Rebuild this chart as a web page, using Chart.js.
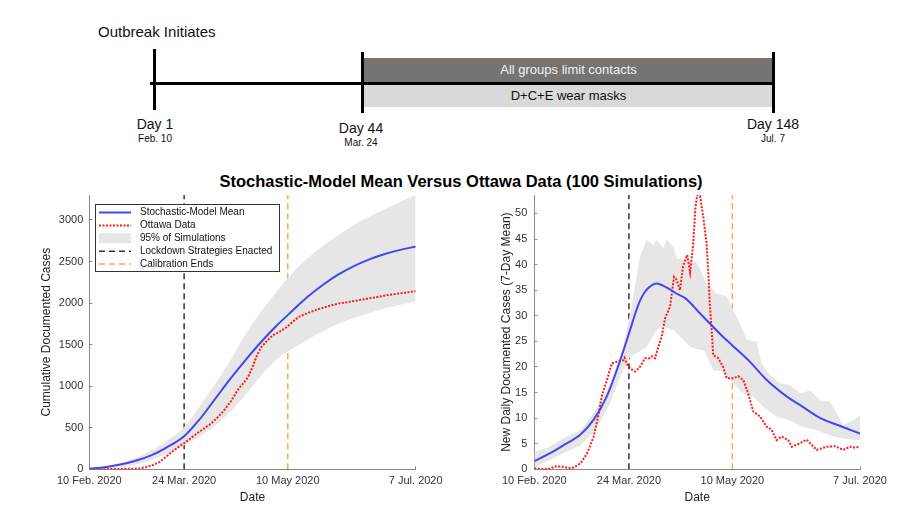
<!DOCTYPE html>
<html>
<head>
<meta charset="utf-8">
<script src="https://cdn.jsdelivr.net/npm/chart.js@4.4.1/dist/chart.umd.min.js"></script>
<style>
    body { margin: 0; width: 900px; height: 506px; background: #fff; position: relative; overflow: hidden;
           font-family: "Liberation Sans", Arial, sans-serif; color: #111; }
    .abs { position: absolute; }
    .bar { position: absolute; background: #000; }
    .day { position: absolute; width: 100px; text-align: center; font-size: 14px; line-height: 16px; }
    .date { position: absolute; width: 100px; text-align: center; font-size: 10px; line-height: 11px; }
    .box { position: absolute; left: 364px; width: 409px; text-align: center; font-size: 13px; }
    #title { left: 0; top: 172px; width: 922px; text-align: center; font-weight: bold; font-size: 16.5px; line-height: 19px; color: #000; }
    canvas { position: absolute; top: 190px; }
</style>
</head>
<body>

<!-- timeline -->
<div class="abs" style="left:98px; top:23px; font-size:15px; line-height:17px;">Outbreak Initiates</div>
<div class="box" style="top:58px; height:24px; line-height:24px; background:#767371; color:#f2f2f2;">All groups limit contacts</div>
<div class="box" style="top:85px; height:22px; line-height:22px; background:#d9d9d9;">D+C+E wear masks</div>
<div class="bar" style="left:150px; top:82px; width:625px; height:3px;"></div>
<div class="bar" style="left:153px; top:49px; width:3px; height:61px;"></div>
<div class="bar" style="left:361px; top:52px; width:3px; height:61px;"></div>
<div class="bar" style="left:772px; top:52px; width:3px; height:61px;"></div>
<div class="day" style="left:105px; top:115.5px;">Day 1</div>
<div class="date" style="left:105px; top:132.5px;">Feb. 10</div>
<div class="day" style="left:311px; top:119.5px;">Day 44</div>
<div class="date" style="left:311px; top:136.5px;">Mar. 24</div>
<div class="day" style="left:723px; top:115.5px;">Day 148</div>
<div class="date" style="left:723px; top:132.5px;">Jul. 7</div>

<div id="title" class="abs">Stochastic-Model Mean Versus Ottawa Data (100 Simulations)</div>

<canvas id="chart-cumulative" width="450" height="316" style="left:0;"></canvas>
<canvas id="chart-daily" width="450" height="316" style="left:450px;"></canvas>

<script>
// x axis: days since 10 Feb. 2020
const dateTickDays = [0, 43, 90, 148];
const dateTickLabels = ['10 Feb. 2020', '24 Mar. 2020', '10 May 2020', '7 Jul. 2020'];
const lockdownDay = 43;
const calibrationDay = 90;

// cumulative documented cases
const cumTicks = [0, 500, 1000, 1500, 2000, 2500, 3000];
const cumMax = 3300;
const cumDays = [0, 7, 14, 21, 28, 35, 43, 50, 57, 64, 71, 78, 85, 92, 99, 106, 113, 120, 127, 134, 141, 148];
const cumMean = [8, 25, 57, 103, 168, 262, 398, 600, 845, 1090, 1320, 1535, 1730, 1905, 2075, 2220, 2345, 2445, 2525, 2590, 2640, 2680];
const cumUpper = [10, 35, 75, 135, 225, 340, 510, 755, 1025, 1310, 1630, 1900, 2140, 2360, 2540, 2690, 2820, 2940, 3040, 3130, 3220, 3300];
const cumLower = [0, 8, 25, 55, 110, 180, 288, 395, 525, 695, 900, 1130, 1320, 1450, 1560, 1660, 1750, 1820, 1880, 1935, 1980, 2020];
const ottawaCumDays = [0, 5, 10, 15, 20, 23, 26, 29, 32, 35, 38, 41, 43, 46, 49, 52, 55, 58, 61, 64, 66, 68, 70, 72, 74, 76, 78, 80, 83, 86, 89, 92, 95, 99, 103, 108, 113, 118, 124, 130, 136, 142, 148];
const ottawaCum = [0, 1, 3, 5, 7, 12, 28, 52, 90, 155, 220, 280, 314, 375, 435, 490, 545, 620, 705, 810, 895, 980, 1040, 1110, 1230, 1370, 1470, 1530, 1610, 1650, 1700, 1770, 1835, 1880, 1920, 1960, 1995, 2015, 2043, 2070, 2100, 2120, 2143];

// new daily documented cases (7-day mean)
const dailyTicks = [0, 5, 10, 15, 20, 25, 30, 35, 40, 45, 50];
const dailyMax = 53.6;
const dailyMeanDays = [0, 7, 14, 21, 27, 33, 38, 43.5, 46, 48, 50, 52, 55.5, 58.5, 61, 64, 69, 75, 80, 85, 90, 98, 105.5, 114.5, 122, 130, 137.5, 148];
const dailyMean = [1.6, 3.1, 4.9, 6.8, 9.7, 14.3, 20, 27.2, 30.6, 32.9, 34.5, 35.5, 36.3, 35.9, 35.3, 34.5, 33.3, 30.6, 28.4, 26.2, 24.2, 21, 17.5, 14.3, 12.2, 10, 8.7, 7];
const dailyUpperDays = [0, 7, 13, 21, 28, 34.5, 40.5, 45, 48, 51, 54, 55.6, 58.6, 60.2, 63.2, 64.7, 69.3, 73.8, 78.3, 82.8, 87.4, 90.4, 93.5, 96.5, 101, 103.3, 107.1, 111.7, 116.2, 120.8, 125.3, 129.8, 134.4, 137.4, 140.4, 145, 148];
const dailyUpper = [3.4, 4.4, 6, 7.7, 11.6, 16.8, 23.9, 33.7, 41.5, 44.8, 43.8, 44.8, 43.2, 44.9, 43.4, 41.2, 40.9, 40.5, 36.3, 34.4, 33.7, 31.1, 28.5, 25.3, 24.9, 20.7, 18.4, 16.8, 16.4, 14.8, 15.4, 13.5, 13.2, 10.9, 8.7, 9.6, 10.6];
const dailyLowerDays = [0, 7, 13, 21, 28, 34.5, 39, 43.5, 46.5, 51, 55.6, 58.6, 63.2, 67.7, 71, 75.3, 77, 81.3, 85.8, 90.4, 94.9, 99.5, 104, 110, 116, 122, 128, 134, 140, 148];
const dailyLower = [0.5, 1.8, 3.1, 4.7, 7.7, 12.9, 18.1, 22, 22.7, 23.9, 27.2, 27.9, 27.2, 25.3, 23.9, 23.3, 23.3, 19.4, 19.1, 16.8, 14.8, 14.2, 12.2, 10.3, 9.6, 8.3, 7.7, 6.7, 6.0, 5.7];
const ottawaDailyDays = [0, 3, 6, 8, 10, 13, 15, 17, 19, 21, 24, 27, 29, 30.6, 33, 35.2, 37.4, 40.4, 41, 42, 43.5, 45.8, 48, 50.3, 52.6, 53.5, 54.9, 56.3, 57.9, 59.4, 61.7, 63.5, 64.7, 66.2, 67.7, 69.5, 70.8, 72.2, 73.2, 74, 75.3, 76.8, 78.3, 79.1, 79.8, 80.6, 81.3, 83.6, 85.8, 87.4, 90.4, 92.7, 95, 97.2, 99.5, 102.6, 105.6, 107.9, 110.1, 112.4, 115.4, 117, 120.7, 123.8, 126, 128.3, 132.8, 136.6, 140.4, 143.4, 146, 148];
const ottawaDaily = [0.2, 0.1, 0, 0.3, 0.6, 0.5, 0.3, 0.2, 0.6, 1.2, 3.1, 6.4, 10.3, 14.2, 17.4, 20.7, 21, 21.3, 21.8, 20.6, 19.7, 19.1, 20, 21.7, 21.7, 22.1, 21.7, 23.9, 25.9, 29.5, 31.8, 37.6, 37, 35, 39.9, 41.9, 38.5, 44, 51, 53.6, 53.4, 49.3, 44.1, 38.3, 31.8, 27.2, 22.3, 21.7, 20, 17.8, 17.8, 18.2, 17.4, 14.8, 11.3, 10.3, 8.3, 7.7, 5.7, 6.4, 5.7, 4.4, 5.1, 5.8, 4.8, 3.8, 4.4, 4.5, 3.8, 4.4, 4.2, 4.5];

const legendLabels = ['Stochastic-Model Mean', 'Ottawa Data', '95% of Simulations', 'Lockdown Strategies Enacted', 'Calibration Ends'];

Chart.defaults.font.family = '"Liberation Sans", Arial, sans-serif';

const pointsOf = (xs, ys) => xs.map((x, i) => ({ x: x, y: ys[i] }));

function vline(day, max, color) {
    return {
        data: [{ x: day, y: 0 }, { x: day, y: max }],
        borderColor: color, borderWidth: 1.5, borderDash: [6, 4], pointRadius: 0, fill: false
    };
}

// dataset order = legend order; the band goes last so it is painted first
function buildDatasets(meanPts, dataPts, upperPts, lowerPts, max, jagged) {
    const bandMode = jagged ? 'default' : 'monotone';
    return [
        { data: meanPts, borderColor: '#4646ee', borderWidth: 2, pointRadius: 0, fill: false, cubicInterpolationMode: 'monotone' },
        { data: dataPts, borderColor: '#ff1a1a', borderWidth: 2, borderDash: [2, 1.5], pointRadius: 0, fill: false },
        { data: upperPts, borderWidth: 0, borderColor: 'rgba(0,0,0,0)', backgroundColor: '#e6e6e6', pointRadius: 0, fill: '+3',
          cubicInterpolationMode: bandMode },
        vline(lockdownDay, max, '#333333'),
        vline(calibrationDay, max, '#ffa64d'),
        { data: lowerPts, borderWidth: 0, borderColor: 'rgba(0,0,0,0)', pointRadius: 0, fill: false,
          cubicInterpolationMode: bandMode }
    ];
}

const insideLegend = {
    id: 'insideLegend',
    afterDraw(chart) {
        const ctx = chart.ctx;
        const area = chart.chartArea;
        const x0 = Math.round(area.left + 6), y0 = Math.round(area.top + 9);
        const w = 184, h = 67;
        ctx.save();
        ctx.fillStyle = '#fff';
        ctx.fillRect(x0, y0, w, h);
        ctx.strokeStyle = '#333';
        ctx.lineWidth = 1;
        ctx.strokeRect(x0 + 0.5, y0 + 0.5, w, h);
        ctx.font = '10px "Liberation Sans", Arial, sans-serif';
        ctx.textBaseline = 'middle';
        legendLabels.forEach((label, i) => {
            const ds = chart.data.datasets[i];
            const y = y0 + 8.5 + i * 12.9;
            if (ds.fill) {
                ctx.fillStyle = ds.backgroundColor;
                ctx.fillRect(x0 + 4, y - 5, 32, 10);
            } else {
                ctx.strokeStyle = ds.borderColor;
                ctx.lineWidth = ds.borderWidth;
                ctx.setLineDash(ds.borderDash || []);
                ctx.beginPath();
                ctx.moveTo(x0 + 4, y);
                ctx.lineTo(x0 + 36, y);
                ctx.stroke();
                ctx.setLineDash([]);
            }
            ctx.fillStyle = '#111';
            ctx.fillText(label, x0 + 45, y);
        });
        ctx.restore();
    }
};

function scalesFor(yTicks, yMax, yTitle, yWidth, yTitlePad, yTickPad) {
    return {
        x: {
            type: 'linear', min: 0, max: 148,
            afterBuildTicks: s => { s.ticks = dateTickDays.map(v => ({ value: v })); },
            afterFit: s => { s.height = 36.7; s.paddingLeft = 0; s.paddingRight = 0; },
            ticks: { autoSkip: false, maxRotation: 0, padding: 8, color: '#333', font: { size: 11 },
                     callback: (v, i) => dateTickLabels[i] },
            grid: { drawOnChartArea: false, tickLength: -3, color: '#888' },
            border: { color: '#888' },
            title: { display: true, text: 'Date', color: '#222', font: { size: 12 }, padding: { top: 0, bottom: 1 } }
        },
        y: {
            type: 'linear', min: 0, max: yMax,
            afterBuildTicks: s => { s.ticks = yTicks.map(v => ({ value: v })); },
            afterFit: s => { s.width = yWidth; s.paddingTop = 0; s.paddingBottom = 0; },
            ticks: { padding: yTickPad, color: '#333', font: { size: 11 }, callback: v => String(v) },
            grid: { drawOnChartArea: false, tickLength: -3, color: '#888' },
            border: { color: '#888' },
            title: { display: true, text: yTitle, color: '#222', font: { size: 12 }, padding: { top: yTitlePad, bottom: 0 } }
        }
    };
}

const commonPlugins = { legend: { display: false }, tooltip: { enabled: false } };

new Chart(document.getElementById('chart-cumulative'), {
    type: 'line',
    data: { datasets: buildDatasets(pointsOf(cumDays, cumMean), pointsOf(ottawaCumDays, ottawaCum),
                                    pointsOf(cumDays, cumUpper), pointsOf(cumDays, cumLower), cumMax, false) },
    options: {
        responsive: false, animation: false, parsing: false,
        layout: { padding: { top: 5, right: 34.3, left: 0, bottom: 0 } },
        scales: scalesFor(cumTicks, cumMax, 'Cumulative Documented Cases', 89.3, 39.8, 9),
        plugins: commonPlugins
    },
    plugins: [insideLegend]
});

new Chart(document.getElementById('chart-daily'), {
    type: 'line',
    data: { datasets: buildDatasets(pointsOf(dailyMeanDays, dailyMean), pointsOf(ottawaDailyDays, ottawaDaily),
                                    pointsOf(dailyUpperDays, dailyUpper), pointsOf(dailyLowerDays, dailyLower), dailyMax, true) },
    options: {
        responsive: false, animation: false, parsing: false,
        layout: { padding: { top: 5, right: 40, left: 0, bottom: 0 } },
        scales: scalesFor(dailyTicks, dailyMax, 'New Daily Documented Cases (7-Day Mean)', 84.3, 49.5, 10),
        plugins: commonPlugins
    }
});
</script>
</body>
</html>
